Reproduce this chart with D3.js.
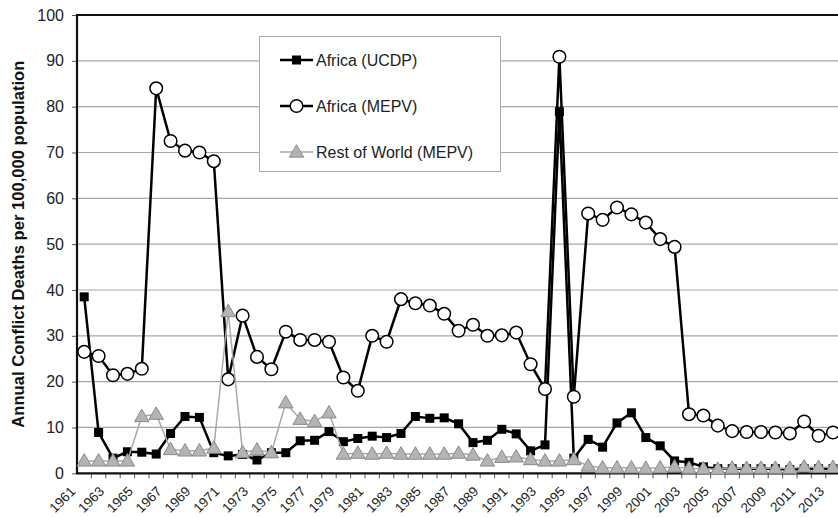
<!DOCTYPE html>
<html><head><meta charset="utf-8">
<script src="https://cdn.jsdelivr.net/npm/d3@7"></script>
<style>body{margin:0;background:#fff}svg{display:block}text{font-family:"Liberation Sans",Arial,sans-serif}</style>
</head><body><svg id="c" width="838" height="518"></svg>
<script>
const years = d3.range(1961, 2014);
const africaUCDP = [38.5,8.9,3.3,4.7,4.6,4.2,8.7,12.4,12.2,4.5,3.8,4.1,2.9,4.5,4.5,7.1,7.2,9.1,6.9,7.6,8.1,7.8,8.7,12.4,12.0,12.1,10.8,6.7,7.2,9.6,8.6,4.9,6.2,78.9,3.3,7.4,5.7,11.0,13.2,7.8,6.0,2.7,2.4,1.4,1.0,1.0,1.0,1.0,1.0,0.8,1.0,1.0,1.0];
const africaMEPV = [26.5,25.6,21.4,21.7,22.8,84.0,72.5,70.4,70.0,68.1,20.5,34.4,25.4,22.7,30.9,29.1,29.1,28.7,20.9,18.0,30.0,28.7,38.0,37.1,36.6,34.8,31.1,32.4,30.0,30.1,30.7,23.8,18.4,90.9,16.7,56.7,55.3,58.0,56.5,54.7,51.1,49.4,12.9,12.6,10.4,9.2,9.0,9.0,8.9,8.7,11.3,8.2,8.9];
const restOfWorld = [2.7,2.7,2.7,2.7,12.4,12.9,5.2,4.9,4.9,5.5,35.3,4.5,5.1,4.5,15.4,11.8,11.3,13.2,4.2,4.4,4.2,4.4,4.2,4.2,4.2,4.2,4.4,4.0,2.7,3.5,3.6,3.0,2.7,2.7,3.0,1.6,1.2,1.2,1.2,1.1,1.2,1.4,1.1,1.0,0.9,1.1,1.1,1.1,1.1,1.1,1.4,1.3,1.3];
const yTicks = [0,10,20,30,40,50,60,70,80,90,100];
const xLabels = years.filter((y,i)=>i%2===0);
const seriesNames = ["Africa (UCDP)","Africa (MEPV)","Rest of World (MEPV)"];
const yTitle = "Annual Conflict Deaths per 100,000 population";

const svg = d3.select("#c");
const L=77, T=15, B=473.3, R=840.2;
const x = d3.scaleBand().domain(years).range([L,R]).padding(0);
const cx = d => x(d)+x.bandwidth()/2;
const y = d3.scaleLinear().domain([0,100]).range([B,T]);

// gridlines
svg.append("g").selectAll("line").data(yTicks.slice(1,-1)).join("line")
  .attr("x1",L).attr("x2",R).attr("y1",d=>y(d)).attr("y2",d=>y(d))
  .attr("stroke","#a8a8a8").attr("stroke-width",1.2);

// y axis
const ya = svg.append("g").attr("transform",`translate(${L},0)`)
  .call(d3.axisLeft(y).tickValues(yTicks).tickSize(5).tickPadding(8));
ya.select(".domain").remove();
ya.selectAll("line").attr("stroke","#555");
ya.selectAll("text").attr("font-size",16).attr("fill","#222").style("font-family","Liberation Sans, Arial, sans-serif");

// x axis
const xa = svg.append("g").attr("transform",`translate(0,${B})`)
  .call(d3.axisBottom(x).tickValues(xLabels).tickSize(0).tickPadding(0));
xa.select(".domain").remove();
xa.selectAll("text").attr("font-size",13.5).attr("fill","#222")
  .attr("text-anchor","end").attr("dy",null)
  .attr("transform","translate(-8,19) rotate(-45)")
  .attr("y",0).attr("x",0).style("font-family","Liberation Sans, Arial, sans-serif");
// category boundary ticks
svg.append("g").selectAll("line").data(years).join("line")
  .attr("x1",d=>x(d)+x.bandwidth()).attr("x2",d=>x(d)+x.bandwidth())
  .attr("y1",B).attr("y2",B+5).attr("stroke","#555").attr("stroke-width",1);

// frame
svg.append("line").attr("x1",L).attr("x2",R).attr("y1",T).attr("y2",T).attr("stroke","#111").attr("stroke-width",2.2);
svg.append("line").attr("x1",L).attr("x2",R).attr("y1",B).attr("y2",B).attr("stroke","#111").attr("stroke-width",2.2);
svg.append("line").attr("x1",L).attr("x2",L).attr("y1",T-1).attr("y2",B+1).attr("stroke","#111").attr("stroke-width",2.2);

// y title
svg.append("text").attr("transform",`translate(23.5,${(T+B)/2}) rotate(-90)`)
  .attr("text-anchor","middle").attr("font-size",16.6).attr("font-weight","bold").attr("fill","#111")
  .text(yTitle);

const line = d3.line().x((d,i)=>cx(years[i])).y(d=>y(d));
const tri = d3.symbol().type(d3.symbolTriangle).size(90);

// UCDP
const g1 = svg.append("g");
g1.append("path").datum(africaUCDP).attr("d",line).attr("fill","none").attr("stroke","#000").attr("stroke-width",2.5);
g1.selectAll("rect").data(africaUCDP).join("rect")
  .attr("x",(d,i)=>cx(years[i])-4.5).attr("y",d=>y(d)-4.5).attr("width",9).attr("height",9).attr("fill","#000");
// MEPV
const g2 = svg.append("g");
g2.append("path").datum(africaMEPV).attr("d",line).attr("fill","none").attr("stroke","#000").attr("stroke-width",2.5);
g2.selectAll("circle").data(africaMEPV).join("circle")
  .attr("cx",(d,i)=>cx(years[i])).attr("cy",d=>y(d)).attr("r",6.3).attr("fill","#fff").attr("stroke","#000").attr("stroke-width",1.5);
// ROW
const g3 = svg.append("g");
g3.append("path").datum(restOfWorld).attr("d",line).attr("fill","none").attr("stroke","#a9a9a9").attr("stroke-width",1.5);
g3.selectAll("path.m").data(restOfWorld).join("path").attr("class","m")
  .attr("d",tri).attr("transform",(d,i)=>`translate(${cx(years[i])},${y(d)+1})`)
  .attr("fill","#b4b4b4").attr("stroke","#8a8a8a").attr("stroke-width",1);

// legend
const lg = svg.append("g");
lg.append("rect").attr("x",259.5).attr("y",36.5).attr("width",241).attr("height",135).attr("fill","#fff").attr("stroke","#aaa").attr("stroke-width",1);
const rows = [60,106,152];
seriesNames.forEach((n,i)=>{
  const ry = rows[i];
  lg.append("line").attr("x1",280).attr("x2",313).attr("y1",ry).attr("y2",ry)
    .attr("stroke", i===2?"#a9a9a9":"#000").attr("stroke-width", i===2?1.5:2.5);
  if(i===0) lg.append("rect").attr("x",292).attr("y",ry-4.5).attr("width",9).attr("height",9).attr("fill","#000");
  if(i===1) lg.append("circle").attr("cx",296.5).attr("cy",ry).attr("r",6.3).attr("fill","#fff").attr("stroke","#000").attr("stroke-width",1.5);
  if(i===2) lg.append("path").attr("d",tri).attr("transform",`translate(296.5,${ry+1})`).attr("fill","#b4b4b4").attr("stroke","#8a8a8a");
  lg.append("text").attr("x",316).attr("y",ry+6).attr("font-size",16).attr("fill","#222").text(n);
});
</script></body></html>
